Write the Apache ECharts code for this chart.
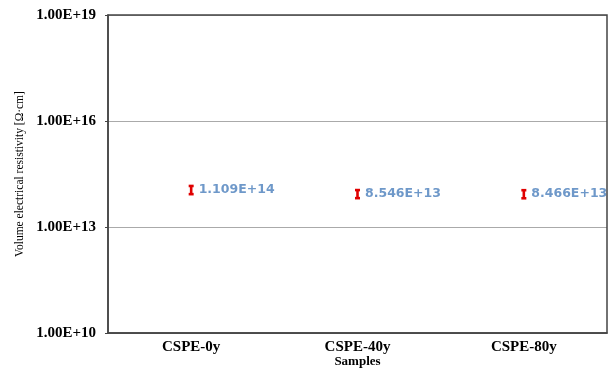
<!DOCTYPE html>
<html><head><meta charset="utf-8">
<script src="https://cdn.jsdelivr.net/npm/echarts@6/dist/echarts.min.js"></script>
<style>html,body{margin:0;padding:0;background:#fff}#c{width:613px;height:369px}</style>
</head><body><div id="c"></div>
<script>
var categories = ['CSPE-0y', 'CSPE-40y', 'CSPE-80y'];
var resistivity = [1.109e14, 8.546e13, 8.466e13];
var errLow = [0.85e14, 0.655e14, 0.65e14];
var errHigh = [1.45e14, 1.11e14, 1.10e14];
var yTicks = [1e10, 1e13, 1e16, 1e19];

var chart = echarts.init(document.getElementById('c'));
var serif = '"Liberation Serif", "Times New Roman", serif';
chart.setOption({
  animation: false,
  grid: {left: 108, right: 6, top: 15, bottom: 36, outerBoundsMode: 'none', containLabel: false},
  xAxis: {
    type: 'category', data: categories,
    name: 'Samples', nameLocation: 'middle', nameGap: 22, nameMoveOverlap: false,
    nameTextStyle: {fontFamily: serif, fontWeight: 'bold', fontSize: 13, color: '#000'},
    axisLine: {lineStyle: {color: '#444', width: 1.5}},
    axisTick: {inside: true, length: 3, lineStyle: {color: '#444'}},
    axisLabel: {fontFamily: serif, fontWeight: 'bold', fontSize: 15, color: '#000', margin: 7}
  },
  yAxis: {
    type: 'log', logBase: 10, min: yTicks[0], max: yTicks[yTicks.length - 1], interval: 3,
    name: 'Volume electrical resistivity [\u03A9\u00B7cm]', nameLocation: 'middle', nameGap: 82, nameMoveOverlap: false,
    nameTextStyle: {fontFamily: serif, fontSize: 11.5, color: '#000'},
    axisLine: {show: true, lineStyle: {color: '#444', width: 1.5}},
    axisTick: {show: true, length: 3, lineStyle: {color: '#444'}},
    splitLine: {lineStyle: {color: '#aaa', width: 1}},
    axisLabel: {
      fontFamily: serif, fontWeight: 'bold', fontSize: 15, color: '#000', margin: 12,
      formatter: function (v) { return '1.00E+' + Math.round(Math.log10(v)); }
    }
  },
  series: [
    {
      type: 'custom',
      data: categories.map(function (c, i) { return [i, errLow[i], errHigh[i]]; }),
      renderItem: function (params, api) {
        var lo = api.coord([api.value(0), api.value(1)]);
        var hi = api.coord([api.value(0), api.value(2)]);
        var w = 2.5;
        var st = {stroke: '#e00000', lineWidth: 2.6};
        return {type: 'group', children: [
          {type: 'line', shape: {x1: lo[0], y1: lo[1], x2: hi[0], y2: hi[1]}, style: st},
          {type: 'line', shape: {x1: lo[0] - w, y1: lo[1], x2: lo[0] + w, y2: lo[1]}, style: st},
          {type: 'line', shape: {x1: hi[0] - w, y1: hi[1], x2: hi[0] + w, y2: hi[1]}, style: st}
        ]};
      },
      z: 3
    },
    {
      type: 'scatter',
      data: resistivity,
      symbolSize: 1,
      itemStyle: {color: 'rgba(0,0,0,0)'},
      label: {
        show: true, position: 'right', distance: 7,
        fontFamily: '"DejaVu Sans", Verdana, sans-serif', fontWeight: 'bold', fontSize: 12.5, color: '#4a7ebb',
        formatter: function (p) { return p.value.toExponential(3).toUpperCase(); }
      },
      z: 4
    }
  ],
  graphic: [{
    type: 'rect', shape: {x: 108, y: 15, width: 613 - 108 - 6, height: 369 - 15 - 36},
    style: {fill: 'none', stroke: '#444', lineWidth: 1.5}, silent: true, z: 10
  }]
});
</script></body></html>
